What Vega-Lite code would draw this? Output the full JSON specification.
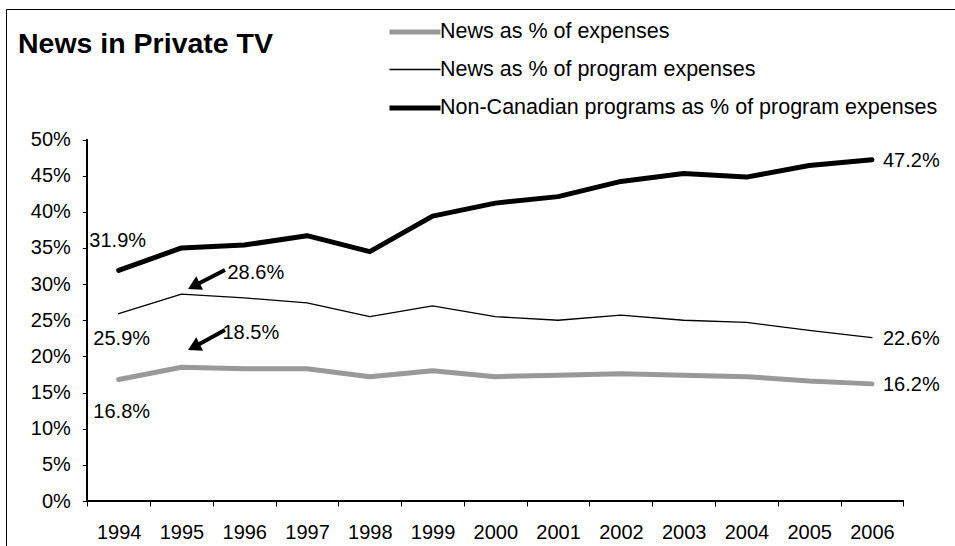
{
  "$schema": "https://vega.github.io/schema/vega-lite/v6.json",
  "width": 950,
  "height": 538,
  "autosize": {"type": "none"},
  "padding": {"left": 6, "top": 9, "right": 0, "bottom": 0},
  "background": "white",
  "config": {
    "view": {"stroke": "black", "strokeWidth": 1},
    "font": "Liberation Sans",
    "axis": {"labelFont": "Liberation Sans", "labelFontSize": 20, "labelColor": "black", "tickColor": "black", "tickWidth": 1, "domain": false, "grid": false},
    "text": {"font": "Liberation Sans", "fontSize": 20, "color": "black"}
  },
  "title": {
    "text": "News in Private TV",
    "anchor": "start",
    "frame": "group",
    "font": "Liberation Sans",
    "fontSize": 28.5,
    "fontWeight": "bold",
    "color": "black",
    "offset": 0,
    "baseline": "alphabetic",
    "dx": 12,
    "dy": 77
  },
  "datasets": {
    "series": [
      {"year": 1994, "series": "News as % of expenses", "value": 0.168},
      {"year": 1995, "series": "News as % of expenses", "value": 0.185},
      {"year": 1996, "series": "News as % of expenses", "value": 0.183},
      {"year": 1997, "series": "News as % of expenses", "value": 0.183},
      {"year": 1998, "series": "News as % of expenses", "value": 0.172},
      {"year": 1999, "series": "News as % of expenses", "value": 0.180},
      {"year": 2000, "series": "News as % of expenses", "value": 0.172},
      {"year": 2001, "series": "News as % of expenses", "value": 0.174},
      {"year": 2002, "series": "News as % of expenses", "value": 0.176},
      {"year": 2003, "series": "News as % of expenses", "value": 0.174},
      {"year": 2004, "series": "News as % of expenses", "value": 0.172},
      {"year": 2005, "series": "News as % of expenses", "value": 0.166},
      {"year": 2006, "series": "News as % of expenses", "value": 0.162},
      {"year": 1994, "series": "News as % of program expenses", "value": 0.259},
      {"year": 1995, "series": "News as % of program expenses", "value": 0.286},
      {"year": 1996, "series": "News as % of program expenses", "value": 0.281},
      {"year": 1997, "series": "News as % of program expenses", "value": 0.274},
      {"year": 1998, "series": "News as % of program expenses", "value": 0.255},
      {"year": 1999, "series": "News as % of program expenses", "value": 0.270},
      {"year": 2000, "series": "News as % of program expenses", "value": 0.255},
      {"year": 2001, "series": "News as % of program expenses", "value": 0.250},
      {"year": 2002, "series": "News as % of program expenses", "value": 0.257},
      {"year": 2003, "series": "News as % of program expenses", "value": 0.250},
      {"year": 2004, "series": "News as % of program expenses", "value": 0.247},
      {"year": 2005, "series": "News as % of program expenses", "value": 0.236},
      {"year": 2006, "series": "News as % of program expenses", "value": 0.226},
      {"year": 1994, "series": "Non-Canadian programs as % of program expenses", "value": 0.319},
      {"year": 1995, "series": "Non-Canadian programs as % of program expenses", "value": 0.350},
      {"year": 1996, "series": "Non-Canadian programs as % of program expenses", "value": 0.354},
      {"year": 1997, "series": "Non-Canadian programs as % of program expenses", "value": 0.367},
      {"year": 1998, "series": "Non-Canadian programs as % of program expenses", "value": 0.345},
      {"year": 1999, "series": "Non-Canadian programs as % of program expenses", "value": 0.394},
      {"year": 2000, "series": "Non-Canadian programs as % of program expenses", "value": 0.412},
      {"year": 2001, "series": "Non-Canadian programs as % of program expenses", "value": 0.421},
      {"year": 2002, "series": "Non-Canadian programs as % of program expenses", "value": 0.442},
      {"year": 2003, "series": "Non-Canadian programs as % of program expenses", "value": 0.453},
      {"year": 2004, "series": "Non-Canadian programs as % of program expenses", "value": 0.448},
      {"year": 2005, "series": "Non-Canadian programs as % of program expenses", "value": 0.464},
      {"year": 2006, "series": "Non-Canadian programs as % of program expenses", "value": 0.472}
    ],
    "callouts": [
      {"arrow": "program news 1995", "year": 1995.693, "value": 0.3195, "year2": 1995.228, "value2": 0.2988},
      {"arrow": "news 1995", "year": 1995.693, "value": 0.2365, "year2": 1995.228, "value2": 0.2144}
    ]
  },
  "encoding": {
    "x": {
      "field": "year",
      "type": "quantitative",
      "title": null,
      "scale": {"domain": [1992.2046, 2007.339], "nice": false, "zero": false},
      "axis": {
        "orient": "bottom",
        "offset": -46,
        "values": [1993.5, 1994.5, 1995.5, 1996.5, 1997.5, 1998.5, 1999.5, 2000.5, 2001.5, 2002.5, 2003.5, 2004.5, 2005.5, 2006.5],
        "tickSize": 5,
        "labelOffset": 31.4,
        "labelPadding": 16,
        "labelAlign": "center",
        "labelFlush": false,
        "labelOverlap": false,
        "labelExpr": "datum.value < 2006 ? format(datum.value + 0.5, 'd') : ''"
      }
    },
    "y": {
      "field": "value",
      "type": "quantitative",
      "title": null,
      "scale": {"domain": [-0.06362, 0.6805], "nice": false, "zero": false},
      "axis": {
        "orient": "left",
        "offset": -81.3,
        "values": [0, 0.05, 0.1, 0.15, 0.2, 0.25, 0.3, 0.35, 0.4, 0.45, 0.5],
        "format": ".0%",
        "tickSize": 5,
        "labelPadding": 12
      }
    }
  },
  "layer": [
    {
      "data": {"name": "series"},
      "mark": {"type": "rule", "color": "black", "strokeWidth": 1},
      "encoding": {
        "x": {"datum": 1993.5, "type": "quantitative"},
        "y": {"datum": 0, "type": "quantitative"},
        "y2": {"datum": 0.5}
      }
    },
    {
      "data": {"name": "series"},
      "mark": {"type": "rule", "color": "black", "strokeWidth": 1},
      "encoding": {
        "x": {"datum": 1993.5, "type": "quantitative"},
        "x2": {"datum": 2006.5},
        "y": {"datum": 0, "type": "quantitative"}
      }
    },
    {
      "data": {"name": "series"},
      "mark": {"type": "line", "strokeJoin": "round", "strokeCap": "round"},
      "encoding": {
        "color": {
          "field": "series",
          "type": "nominal",
          "scale": {
            "domain": ["News as % of expenses", "News as % of program expenses", "Non-Canadian programs as % of program expenses"],
            "range": ["#999999", "#000000", "#000000"]
          },
          "legend": {
            "title": null, "orient": "none", "legendX": 381, "legendY": -5,
            "symbolType": "stroke", "symbolSize": 2601, "labelFontSize": 21.5, "labelFont": "Liberation Sans",
            "labelColor": "black", "labelOffset": -3, "rowPadding": -2.5, "padding": 0, "labelLimit": 700
          }
        },
        "strokeWidth": {
          "field": "series",
          "type": "nominal",
          "scale": {
            "type": "ordinal",
            "domain": ["News as % of expenses", "News as % of program expenses", "Non-Canadian programs as % of program expenses"],
            "range": [5, 1.3, 5]
          },
          "legend": {
            "title": null, "orient": "none", "legendX": 381, "legendY": -5,
            "symbolType": "stroke", "symbolSize": 2601, "labelFontSize": 21.5, "labelFont": "Liberation Sans",
            "labelColor": "black", "labelOffset": -3, "rowPadding": -2.5, "padding": 0, "labelLimit": 700
          }
        }
      }
    },
    {
      "data": {"name": "series"},
      "transform": [{"filter": "datum.year == 2006"}],
      "mark": {"type": "text", "align": "left", "baseline": "middle", "dx": 11, "dy": 1},
      "encoding": {"text": {"field": "value", "type": "quantitative", "format": ".1%"}}
    },
    {
      "data": {"name": "series"},
      "transform": [{"filter": "datum.year == 1994 && datum.series == 'Non-Canadian programs as % of program expenses'"}],
      "mark": {"type": "text", "align": "center", "baseline": "middle", "dx": -1, "dy": -29},
      "encoding": {"text": {"field": "value", "type": "quantitative", "format": ".1%"}}
    },
    {
      "data": {"name": "series"},
      "transform": [{"filter": "datum.year == 1994 && datum.series == 'News as % of program expenses'"}],
      "mark": {"type": "text", "align": "center", "baseline": "middle", "dx": 3, "dy": 25},
      "encoding": {"text": {"field": "value", "type": "quantitative", "format": ".1%"}}
    },
    {
      "data": {"name": "series"},
      "transform": [{"filter": "datum.year == 1994 && datum.series == 'News as % of expenses'"}],
      "mark": {"type": "text", "align": "center", "baseline": "middle", "dx": 3, "dy": 32},
      "encoding": {"text": {"field": "value", "type": "quantitative", "format": ".1%"}}
    },
    {
      "data": {"name": "series"},
      "transform": [{"filter": "datum.year == 1995 && datum.series == 'News as % of program expenses'"}],
      "mark": {"type": "text", "align": "left", "baseline": "middle", "dx": 46, "dy": -21},
      "encoding": {"text": {"field": "value", "type": "quantitative", "format": ".1%"}}
    },
    {
      "data": {"name": "series"},
      "transform": [{"filter": "datum.year == 1995 && datum.series == 'News as % of expenses'"}],
      "mark": {"type": "text", "align": "left", "baseline": "middle", "dx": 41, "dy": -34},
      "encoding": {"text": {"field": "value", "type": "quantitative", "format": ".1%"}}
    },
    {
      "data": {"name": "callouts"},
      "mark": {"type": "rule", "color": "black", "strokeWidth": 4},
      "encoding": {
        "x": {"field": "year", "type": "quantitative"},
        "x2": {"field": "year2"},
        "y": {"field": "value", "type": "quantitative"},
        "y2": {"field": "value2"}
      }
    },
    {
      "data": {"name": "callouts"},
      "mark": {"type": "point", "shape": "triangle", "filled": true, "color": "black", "opacity": 1, "size": 225, "angle": 243},
      "encoding": {
        "x": {"field": "year2", "type": "quantitative"},
        "y": {"field": "value2", "type": "quantitative"}
      }
    }
  ]
}
